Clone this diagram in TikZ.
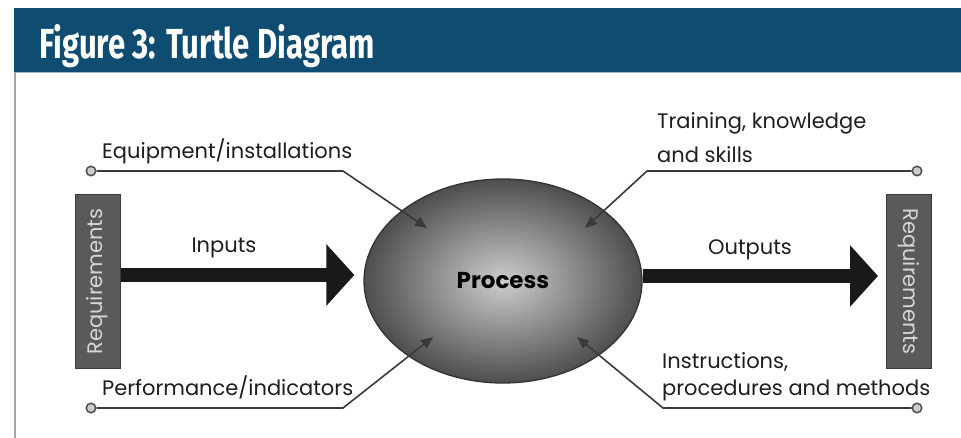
\documentclass[tikz,border=0pt]{standalone}
\usepackage{fontspec}
\setmainfont{Poppins}
\newfontfamily\titlefont[FakeStretch=0.74]{Fira Sans}
\usetikzlibrary{arrows.meta,shapes.geometric,calc}
\definecolor{banner}{HTML}{0E4C72}
\definecolor{ink}{HTML}{1E1E1E}
\definecolor{line}{HTML}{3A3A3A}
\definecolor{boxfill}{HTML}{5A5A5A}
\definecolor{boxtext}{HTML}{D6D6D6}
\definecolor{procin}{HTML}{CDCDCD}
\definecolor{procout}{HTML}{4E4E4E}
\tikzset{
  lbl/.style={inner sep=0pt, text=ink, font=\fontsize{21}{27}\selectfont},
  reqbox/.style={draw=line, fill=boxfill, line width=1pt, minimum width=45pt, minimum height=173pt, inner sep=0pt, text=boxtext, font=\fontsize{21}{24}\selectfont},
  dot/.style={circle, inner sep=0pt, minimum size=9.5pt, draw=line!90, fill=gray!40, line width=1.5pt},
  conn/.style={draw=line, line width=1.6pt, -{Triangle[length=12pt,width=10pt]}},
  bigarrow/.style={draw=black!90, line width=14pt, -{Triangle[length=28pt,width=60pt]}},
}
\begin{document}
\begin{tikzpicture}[x=1pt,y=-1pt]
\useasboundingbox (0,0) rectangle (961,438);
\fill[white] (0,0) rectangle (961,438);
% banner
\fill[banner] (14,8) rectangle (961,72);
\draw[color=banner!40, line width=1pt] (14,72.5) -- (961,72.5);
\draw[color=gray!70, line width=1.5pt] (15,72) -- (15,438);
\node[anchor=base west, inner sep=0pt, text=white, font=\titlefont\bfseries\fontsize{42}{44}\selectfont] (title) at (39,59) {Figure 3: Turtle Diagram};

% process
\node[ellipse, minimum width=278pt, minimum height=204pt, inner sep=0pt,
      draw=black!80, line width=1.3pt, inner color=procin, outer color=procout,
      font=\fontsize{23}{26}\selectfont\bfseries, text=black] (proc) at (503,281) {Process};

% requirements boxes
\node[reqbox] (reqL) at (97.5,281.5) {\rotatebox{90}{Requirements}};
\node[reqbox] (reqR) at (909,281.5) {\rotatebox{-90}{Requirements}};

% big arrows
\draw[bigarrow, shorten >=9pt] ([yshift=6.5pt]reqL.east) -- ([yshift=6pt]proc.west);
\draw[bigarrow, shorten >=8pt] ([yshift=5pt]proc.east) -- ([yshift=5.5pt]reqR.west);
\node[lbl, anchor=base] (lin) at (224,253) {Inputs};
\node[lbl, anchor=base] (lout) at (750,255) {Outputs};

% tip coordinates
\coordinate (tEq) at ($(proc.center)+(-76pt,53pt)$);
\coordinate (tTr) at ($(proc.center)+(82pt,53pt)$);
\coordinate (tPf) at ($(proc.center)+(-70pt,-56pt)$);
\coordinate (tIn) at ($(proc.center)+(74pt,-56pt)$);

% connector dots
\node[dot] (cEq) at (91,171) {};
\node[dot] (cTr) at (917,171) {};
\node[dot] (cPf) at (91,408) {};
\node[dot] (cIn) at (917,408) {};

\draw[conn] (cEq) -- (343,171) -- (tEq);
\draw[conn] (cTr) -- (647,171) -- (tTr);
\draw[conn] (cPf) -- (343,408) -- (tPf);
\draw[conn] (cIn) -- (663,408) -- (tIn);

% labels
\node[lbl, anchor=base west] (lEq) at (102,159) {Equipment/installations};
\node[lbl, anchor=base west] (lPf) at (102,395) {Performance/indicators};
\node[lbl, anchor=base west] (lTr) at (657,129) {\begin{tabular}[t]{@{}l@{}}Training, knowledge\\[7pt]and skills\end{tabular}};
\node[lbl, anchor=base west] (lIn) at (662,368) {\begin{tabular}[t]{@{}l@{}}Instructions,\\procedures and methods\end{tabular}};
\end{tikzpicture}
\end{document}
